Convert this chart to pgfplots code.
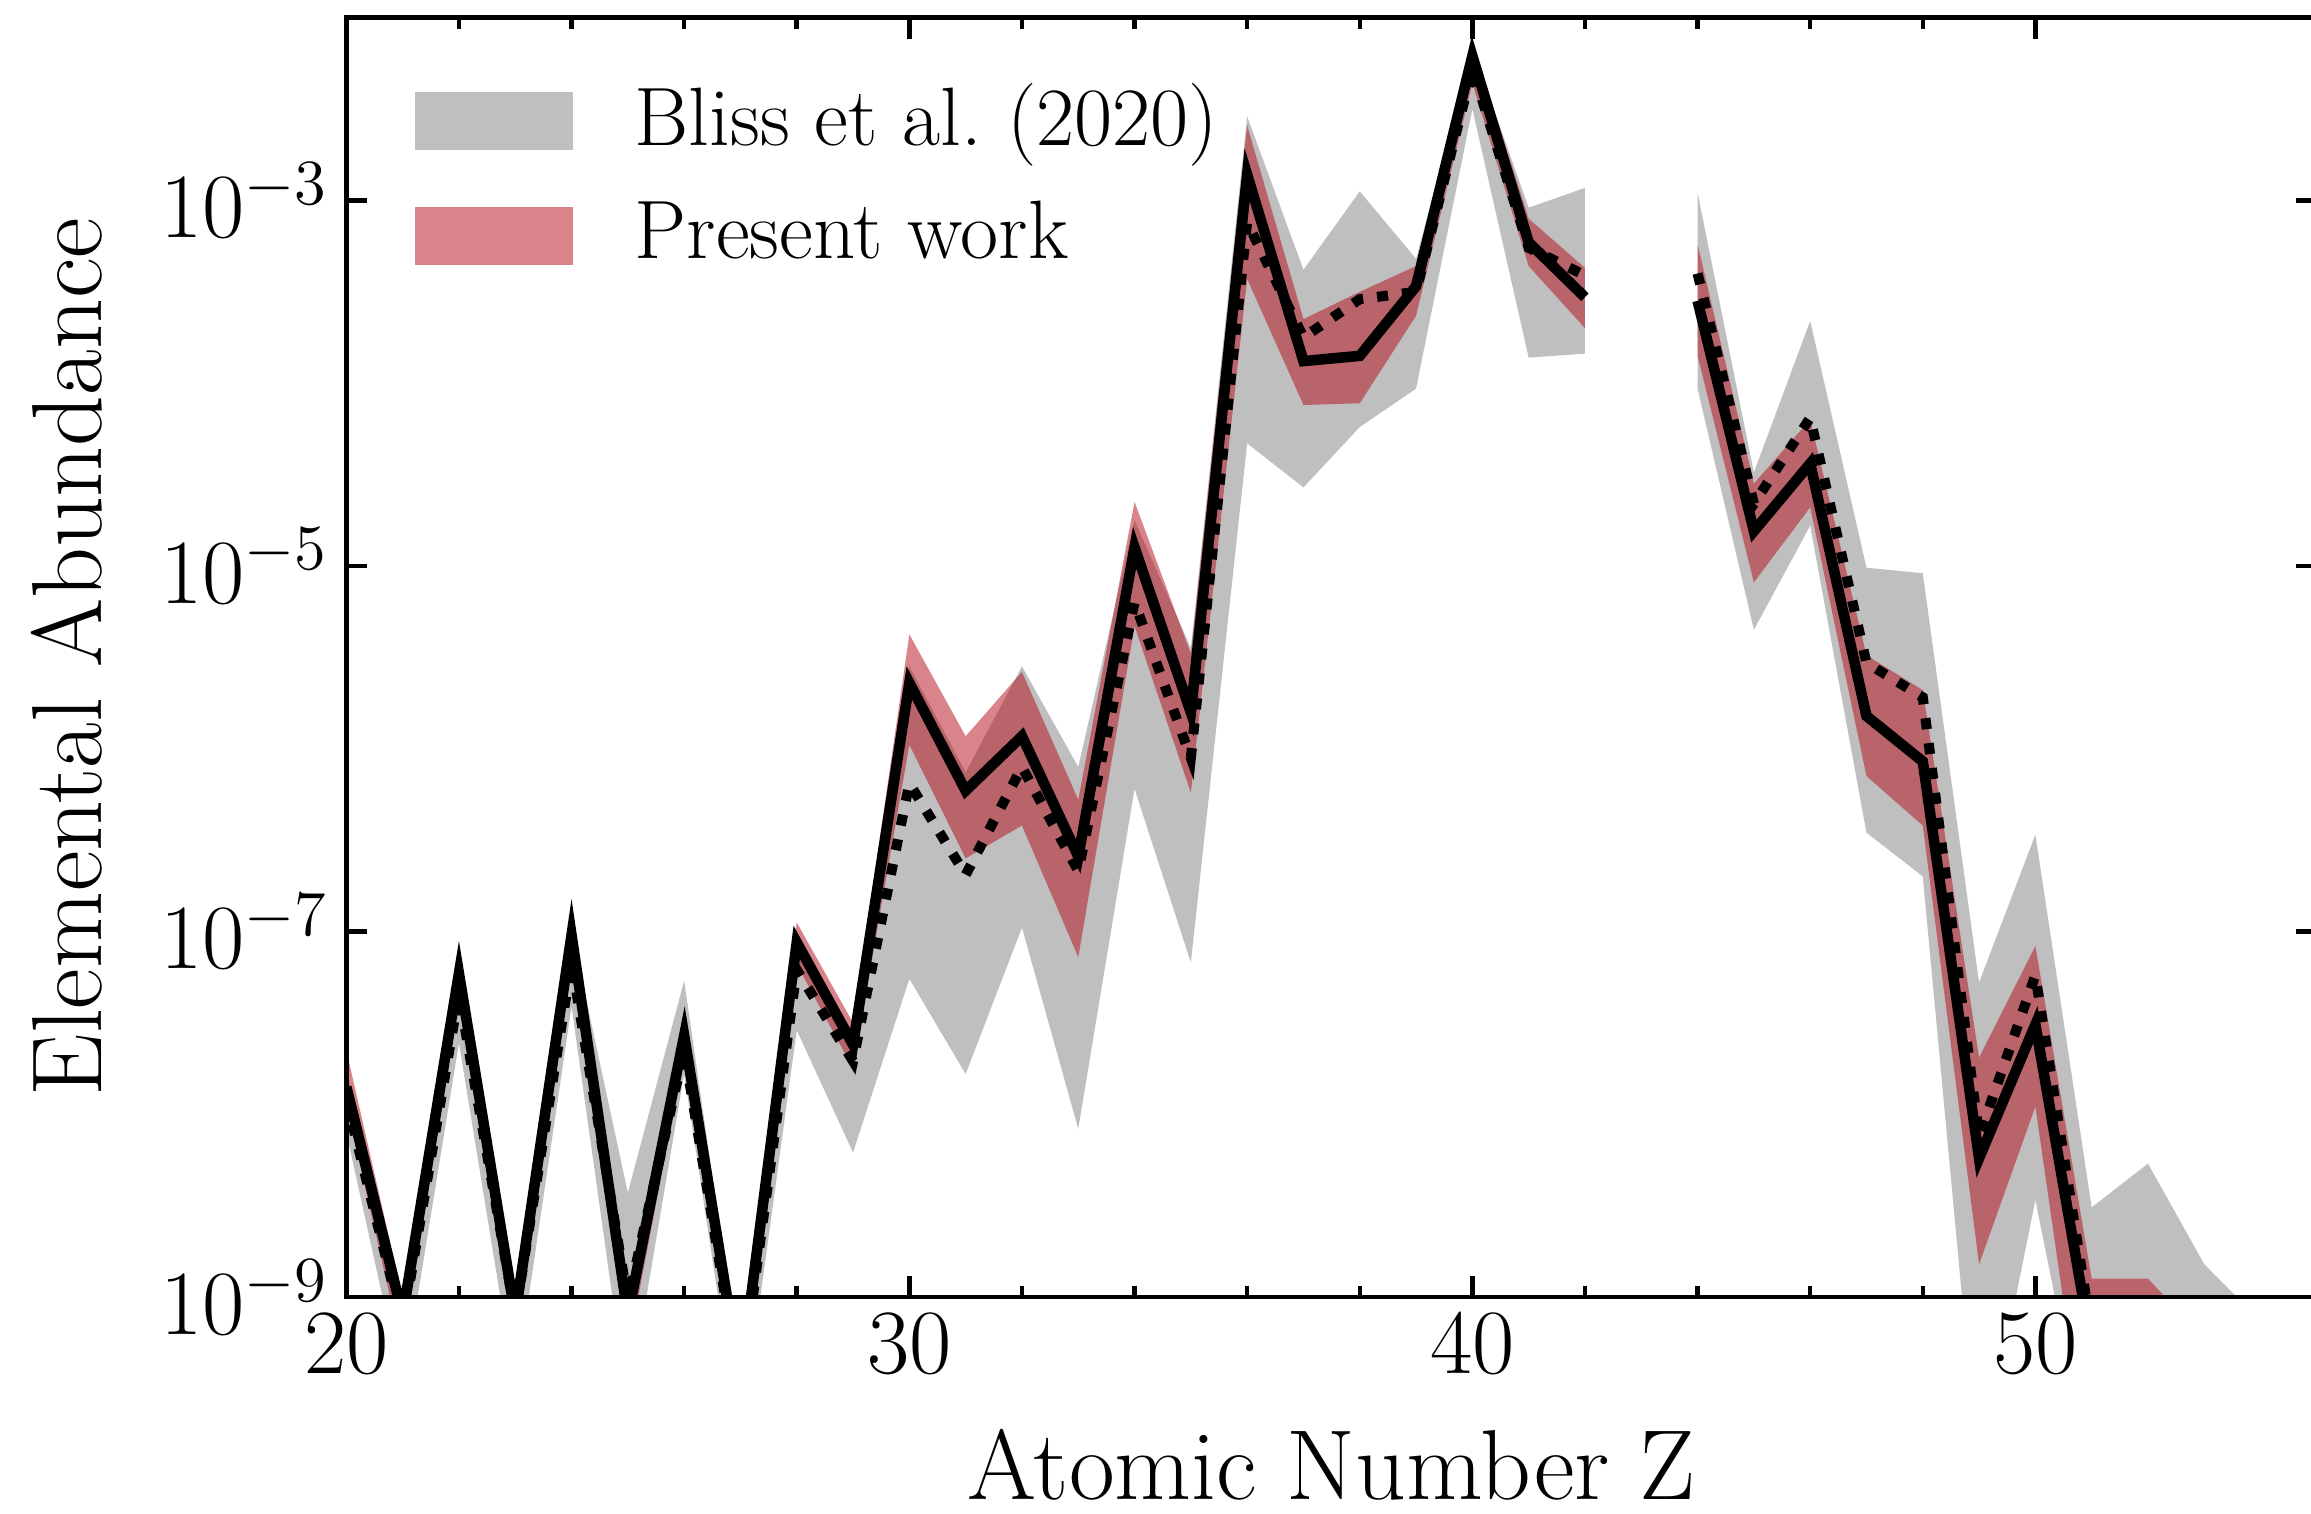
\RequirePackage{fix-cm}
\documentclass[border=0pt]{standalone}
\usepackage{pgfplots}
\usepackage{pgfplotstable}
\pgfplotsset{compat=1.18}
\usepgfplotslibrary{fillbetween}
\definecolor{bandgray}{RGB}{191,191,191}
\definecolor{bandred}{RGB}{180,8,22}

% Z, Bliss et al. band (glo, ghi), present work band (rlo, rhi), present median, Bliss median
\pgfplotstableread{
Z glo ghi rlo rhi med bliss
20 7.94e-9 1.78e-8 1.12e-8 2.24e-8 1.41e-8 1.20e-8
21 3.16e-10 7.08e-10 5.01e-10 1.0e-9 7.94e-10 7.08e-10
22 2.45e-8 6.31e-8 4.47e-8 8.32e-8 5.89e-8 4.57e-8
23 3.16e-10 7.08e-10 5.01e-10 1.0e-9 7.94e-10 7.94e-10
24 3.89e-8 1.0e-7 7.59e-8 1.23e-7 9.55e-8 6.76e-8
25 2.51e-10 3.72e-9 5.01e-10 1.0e-9 7.94e-10 9.55e-10
26 1.66e-8 5.37e-8 2.09e-8 3.63e-8 2.69e-8 2.24e-8
27 1.58e-10 3.98e-10 2.51e-10 5.01e-10 3.55e-10 3.16e-10
28 2.88e-8 8.91e-8 6.61e-8 1.12e-7 8.71e-8 6.17e-8
29 6.17e-9 2.82e-8 1.78e-8 3.16e-8 2.40e-8 1.95e-8
30 5.50e-8 2.82e-6 1.05e-6 4.22e-6 2.29e-6 6.46e-7
31 1.66e-8 7.41e-7 2.51e-7 1.17e-6 5.89e-7 2.04e-7
32 1.05e-7 2.82e-6 3.80e-7 2.63e-6 1.17e-6 7.94e-7
33 8.32e-9 7.94e-7 7.24e-8 5.25e-7 2.57e-7 2.14e-7
34 6.03e-7 1.78e-5 4.68e-6 2.24e-5 1.26e-5 6.31e-6
35 6.76e-8 3.55e-6 5.75e-7 3.31e-6 1.58e-6 8.91e-7
36 4.68e-5 2.88e-3 3.72e-4 2.57e-3 1.38e-3 7.59e-4
37 2.69e-5 4.17e-4 7.59e-5 2.24e-4 1.32e-4 1.78e-4
38 5.75e-5 1.12e-3 7.76e-5 3.16e-4 1.41e-4 2.88e-4
39 9.33e-5 4.79e-4 2.34e-4 4.37e-4 3.39e-4 3.16e-4
40 3.16e-3 6.76e-3 4.37e-3 7.41e-3 6.17e-3 5.25e-3
41 1.38e-4 9.12e-4 4.37e-4 7.94e-4 5.89e-4 5.50e-4
42 1.45e-4 1.17e-3 2.00e-4 4.27e-4 2.95e-4 3.89e-4
}\leftdata

\pgfplotstableread{
Z glo ghi rlo rhi med bliss
44 9.33e-5 1.10e-3 1.41e-4 5.75e-4 2.82e-4 3.98e-4
45 4.47e-6 3.24e-5 8.13e-6 2.82e-5 1.55e-5 2.19e-5
46 1.66e-5 2.19e-4 2.09e-5 6.31e-5 3.63e-5 6.46e-5
47 3.47e-7 9.77e-6 7.08e-7 3.24e-6 1.51e-6 2.95e-6
48 2.00e-7 9.12e-6 3.80e-7 2.09e-6 8.51e-7 1.91e-6
49 1.0e-10 5.25e-8 1.51e-9 2.04e-8 5.75e-9 7.59e-9
50 3.39e-9 3.39e-7 1.10e-8 8.32e-8 3.09e-8 5.75e-8
51 1.0e-10 3.09e-9 8.0e-11 1.26e-9 5.25e-10 6.31e-10
52 3.0e-11 5.37e-9 3.0e-11 1.26e-9 3.0e-11 3.0e-11
53 3.0e-11 1.51e-9 3.0e-11 5.89e-10 3.0e-11 3.0e-11
54 3.0e-11 7.41e-10 3.0e-11 3.16e-10 3.0e-11 3.0e-11
55 3.0e-11 3.16e-10 3.0e-11 1.6e-10 3.0e-11 3.0e-11
}\rightdata

\begin{document}
\begin{tikzpicture}
\begin{axis}[
  scale only axis,
  width=392.3pt, height=254.7pt,
  xmin=20, xmax=55,
  ymode=log, ymin=1e-9, ymax=1e-2,
  xtick={20,30,40,50},
  minor x tick num=4,
  ytick={1e-9,1e-7,1e-5,1e-3},
  yminorticks=false,
  tick align=inside,
  major tick length=4.2pt, minor tick length=2.2pt,
  every tick/.style={black, line width=0.9pt},
  axis line style={line width=0.9pt},
  axis on top,
  tick label style={font=\fontsize{18.3}{21}\selectfont},
  xlabel={Atomic Number Z},
  ylabel={Elemental Abundance},
  label style={font=\fontsize{19.8}{23}\selectfont, inner sep=0pt},
  xlabel style={at={(axis description cs:0.5,-0.1586)}, anchor=base},
  ylabel style={at={(axis description cs:-0.1234,0.5)}, anchor=south},
  legend cell align=left,
  legend style={draw=none, fill=none, at={(0.0344,0.949)}, anchor=north west,
    font=\fontsize{16.5}{19}\selectfont, inner sep=0pt, row sep=9.5pt, column sep=12.3pt,
    nodes={inner sep=0pt}},
]
\coordinate (bl) at (rel axis cs:0,0);
\coordinate (tr) at (rel axis cs:1,1);
% left segment
\addplot[name path=ghiL, draw=none, forget plot] table[x=Z, y=ghi] {\leftdata};
\addplot[name path=gloL, draw=none, forget plot] table[x=Z, y=glo] {\leftdata};
\addplot[name path=rhiL, draw=none, forget plot] table[x=Z, y=rhi] {\leftdata};
\addplot[name path=rloL, draw=none, forget plot] table[x=Z, y=rlo] {\leftdata};
% right segment
\addplot[name path=ghiR, draw=none, forget plot] table[x=Z, y=ghi] {\rightdata};
\addplot[name path=gloR, draw=none, forget plot] table[x=Z, y=glo] {\rightdata};
\addplot[name path=rhiR, draw=none, forget plot] table[x=Z, y=rhi] {\rightdata};
\addplot[name path=rloR, draw=none, forget plot] table[x=Z, y=rlo] {\rightdata};

\addplot[fill=bandgray, draw=none, forget plot] fill between[of=ghiL and gloL];
\addplot[fill=bandgray, draw=none, forget plot] fill between[of=ghiR and gloR];
\addplot[fill=bandred, fill opacity=0.5, draw=none, forget plot] fill between[of=rhiL and rloL];
\addplot[fill=bandred, fill opacity=0.5, draw=none, forget plot] fill between[of=rhiR and rloR];

\addplot[black, line width=2pt, dash pattern=on 2.2pt off 2.8pt, forget plot] table[x=Z, y=bliss] {\leftdata};
\addplot[black, line width=2pt, dash pattern=on 2.2pt off 2.8pt, forget plot] table[x=Z, y=bliss] {\rightdata};
\addplot[black, line width=2.1pt, forget plot] table[x=Z, y=med] {\leftdata};
\addplot[black, line width=2.1pt, forget plot] table[x=Z, y=med] {\rightdata};

\addlegendimage{legend image code/.code={\fill[bandgray, draw=none] (0pt,-6.3pt) rectangle (31.4pt,5.4pt);}}
\addlegendentry{Bliss et al.\ (2020)}
\addlegendimage{legend image code/.code={\fill[bandred, draw=none, fill opacity=0.5] (0pt,-6.3pt) rectangle (31.4pt,5.4pt);}}
\addlegendentry{Present work}
\end{axis}
\pgfresetboundingbox
\path ([shift={(-68.95pt,-43.1pt)}]bl) rectangle ([shift={(-1.17pt,3.5pt)}]tr);
\end{tikzpicture}
\end{document}
